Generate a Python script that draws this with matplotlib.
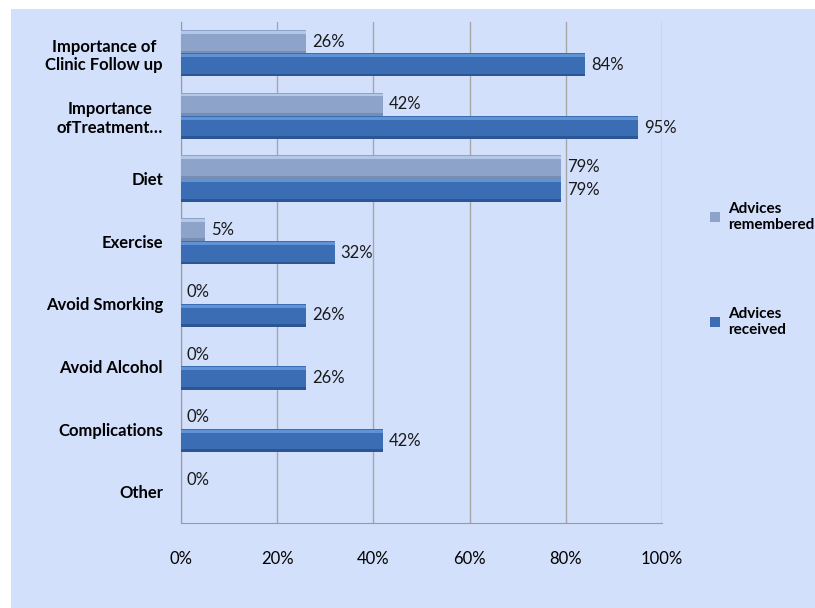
import numpy as np
import matplotlib.pyplot as plt
from matplotlib.patches import Rectangle

categories = ["Importance of\nClinic Follow up", "Importance\nofTreatment\u2026", "Diet", "Exercise",
              "Avoid Smorking", "Avoid Alcohol", "Complications", "Other"]
remembered = [26, 42, 79, 5, 0, 0, 0, 0]
received = [84, 95, 79, 32, 26, 26, 42, 0]
series_names = ["Advices\nremembered", "Advices\nreceived"]

plt.rcParams['font.family'] = ['Lato', 'DejaVu Sans']

bg = '#D3E0FB'
fig = plt.figure(figsize=(8.15, 6.08), dpi=100)
fig.patch.set_facecolor('white')
fig.patches.append(Rectangle((11 / 815, 0), 1, 1 - 9 / 608, transform=fig.transFigure,
                             facecolor=bg, edgecolor='none', zorder=-10))

ax = fig.add_axes([181 / 815, 1 - 523 / 608, 481 / 815, 501 / 608])
ax.set_facecolor(bg)

y = np.arange(len(categories))
h = 0.37


def shaded_bars(pos, vals, base, light, dark, label):
    # base bar with a pale strip near the top and a dark strip at the bottom
    bars = ax.barh(pos, vals, height=h, color=base, edgecolor='none', label=label, zorder=3)
    ax.barh(pos - h * 0.40, vals, height=h * 0.12, color=light, edgecolor='none',
            alpha=0.7, zorder=4)
    ax.barh(pos + h * 0.44, vals, height=h * 0.12, color=dark, edgecolor='none',
            alpha=0.6, zorder=4)
    return bars


shaded_bars(y - h / 2, remembered, '#8EA3C9', '#C4D8F4', '#6A7FA5', series_names[0])
shaded_bars(y + h / 2, received, '#3A6DB3', '#6FA4E6', '#24487E', series_names[1])

for i in range(len(categories)):
    ax.text(remembered[i] + 1.2, y[i] - h / 2, "%d%%" % remembered[i], va='center', ha='left',
            fontsize=12, color='#1a1a1a', zorder=5)
    if received[i] > 0:
        ax.text(received[i] + 1.2, y[i] + h / 2, "%d%%" % received[i], va='center', ha='left',
                fontsize=12, color='#1a1a1a', zorder=5)

ax.set_xlim(0, 100)
ax.set_ylim(len(categories) - 0.5, -0.5)
ax.set_xticks([0, 20, 40, 60, 80, 100])
ax.set_xticklabels(["%d%%" % v for v in [0, 20, 40, 60, 80, 100]], fontsize=12)
ax.set_yticks(y)
ax.set_yticklabels(categories, fontsize=12, fontweight='bold', multialignment='center')
ax.tick_params(axis='x', length=0, pad=20)
ax.tick_params(axis='y', length=0, pad=13)
ax.xaxis.grid(True, color='#A6A6A6', linewidth=1, zorder=0)
ax.set_axisbelow(True)
for s in ['top', 'right']:
    ax.spines[s].set_visible(False)
for s in ['left', 'bottom']:
    ax.spines[s].set_color('#9A9A9A')

leg = fig.legend(loc='upper left', bbox_to_anchor=(696 / 815, 1 - 188 / 608), frameon=False,
                 prop={'weight': 'bold', 'size': 11}, labelspacing=4.9,
                 handlelength=0.7, handleheight=0.7, handletextpad=0.5)

fig.savefig('out.png', dpi=100, facecolor=fig.get_facecolor())
